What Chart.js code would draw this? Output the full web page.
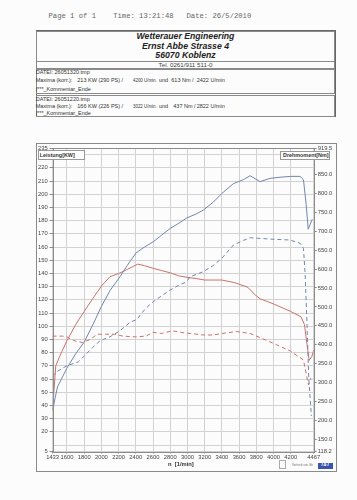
<!DOCTYPE html>
<html><head><meta charset="utf-8">
<script src="https://cdn.jsdelivr.net/npm/chart.js@4.4.1/dist/chart.umd.min.js"></script>
<style>
html,body{margin:0;padding:0;background:#fcfcfc;width:357px;height:500px;overflow:hidden;font-family:"Liberation Sans",Arial,sans-serif;}
.a{position:absolute;white-space:pre;line-height:1;}
.box{position:absolute;border:1px solid #8a8a8a;box-sizing:border-box;}
.s{font-size:5.5px;color:#333;transform-origin:0 50%;}
.t{font-weight:bold;font-style:italic;font-size:8.7px;color:#222;width:299px;left:36px;text-align:center;}
</style></head><body>
<div class="a" style="left:48.5px;top:13px;font-family:'Liberation Mono',monospace;font-size:7.2px;color:#666;">Page 1 of 1    Time: 13:21:48   Date: 26/5/2010</div>

<div class="box" style="left:35.5px;top:30px;width:300px;height:87px;border-color:#666;"></div>
<div class="box" style="left:36px;top:30.5px;width:299px;height:31px;"></div>
<div class="box" style="left:36px;top:61px;width:299px;height:8px;"></div>
<div class="box" style="left:36px;top:69px;width:299px;height:25px;"></div>
<div class="box" style="left:36px;top:94.5px;width:299px;height:22.5px;"></div>

<div class="a t" style="top:32px;">Wetterauer Engineering</div>
<div class="a t" style="top:42px;">Ernst Abbe Strasse 4</div>
<div class="a t" style="top:51px;">56070 Koblenz</div>
<div class="a" style="left:36px;width:299px;text-align:center;top:62.3px;font-size:6.2px;color:#444;">Tel. 0261/911 511-0</div>

<div id="hdr"></div>

<div class="box" style="left:36px;top:143px;width:301px;height:329px;border-color:#8a8a8a;"></div>
<canvas id="c" width="357" height="500" style="position:absolute;left:0;top:0;width:357px;height:500px;"></canvas>

<div class="a" style="left:37.7px;top:150px;width:47px;height:9.5px;box-sizing:border-box;border:1px solid #999;background:#fff;font-size:5.4px;font-weight:bold;color:#333;padding:1.5px 0 0 1px;">Leistung[KW]</div>
<div class="a" style="left:280px;top:151px;width:50px;height:9px;box-sizing:border-box;border:1px solid #999;background:#fff;font-size:5.4px;font-weight:bold;color:#333;padding:1.3px 0 0 2px;">Drehmoment[Nm]</div>
<div class="a" style="left:168px;top:462px;font-size:5.8px;font-weight:bold;color:#333;">n  [1/min]</div>

<div class="box" style="left:279px;top:460px;width:7px;height:9px;border-color:#aaa;"></div>
<div class="a" style="left:292px;top:464px;font-size:3px;color:#777;">Vertrieb von Gb</div>
<div class="a" style="left:317.7px;top:462.5px;width:15px;height:6px;background:#3a55b0;color:#fff;font-size:4.5px;font-weight:bold;font-style:italic;text-align:center;padding-top:0.8px;box-sizing:border-box;">T&amp;T</div>

<script>
// ---------------- data ----------------
const xTicks = [1433,1600,1800,2000,2200,2400,2600,2800,3000,3200,3400,3600,3800,4000,4200,4467];
const kwTicks = [5,10,20,30,40,50,60,70,80,90,100,110,120,130,140,150,160,170,180,190,200,210,220,230,235];
const nmTicks = [118.2,150,200,250,300,350,400,450,500,550,600,650,700,750,800,850,919.5];

// run 1 power (kW)
const p1Rpm = [1433,1460,1490,1597,1700,1800,1900,2000,2100,2216,2300,2402,2500,2603,2700,2798,2900,2992,3100,3185,3300,3399,3534,3650,3728,3844,3960,4100,4200,4309,4348,4380,4403,4450];
const p1Kw  = [36,45,54,68,79,88,101,115,127,137.5,146,155.5,160,164,169,174,178,182,185,188,194,200.5,208,211,214,209.5,212,213,213.5,213.5,211,192,173.5,181];
// run 1 torque (Nm)
const t1Rpm = [1433,1470,1520,1600,1700,1800,1900,2000,2100,2200,2300,2422,2500,2600,2700,2800,2900,3000,3100,3200,3400,3550,3700,3800,3850,4000,4200,4320,4360,4390,4415,4445,4467];
const t1Nm  = [230,345,372,411,453,488,522,555,580,588,599,613,609,602,596,590,582,578,575,571,571,564,552,529,521,508,488,474,453,400,359,369,386];
// run 2 power (kW)
const p2Rpm = [1433,1480,1597,1732,1809,1900,1984,2100,2216,2333,2410,2507,2603,2700,2798,2900,2992,3030,3185,3300,3399,3534,3650,3728,3960,4193,4309,4348,4367,4390,4410,4440];
const p2Kw  = [62,65.5,70,73,78,84,89,92,96.5,103,105,113,118.6,123,127.4,131,133.7,137.5,141.3,146,151.4,161.5,165,167,166,165.3,162.8,159,140,100,60,32];
// run 2 torque (Nm)
const t2Rpm = [1433,1550,1600,1680,1780,1870,1950,2050,2150,2250,2400,2520,2600,2700,2822,2950,3030,3185,3300,3400,3573,3728,3864,4038,4193,4348,4379,4406,4434];
const t2Nm  = [423,423,421,411,406,414,428,428,428,423,421,423,433,430,437,432,430,426,426,430,435,430,417,400,384,360,325,294,312];

// header texts: [left, text, horizontal squeeze]
const hdrLines = [
  {y:72.7, parts:[[35.7,'DATEI: 26051320.tmp',1]]},
  {y:81, parts:[[35.7,'Maxima (korr.):',1],[77.3,'213 KW (290 PS) /',1],[133.3,'4200 U/min.',0.8],[159,'und',1],[171.3,'613 Nm /',1],[196.7,'2422 U/min',1]]},
  {y:89.3, parts:[[35.7,'|***_Kommentar_Ende',1]]},
  {y:99.3, parts:[[35.7,'DATEI: 26051220.tmp',1]]},
  {y:106.7, parts:[[35.7,'Maxima (korr.):',1],[77.3,'166 KW (226 PS) /',1],[133.3,'3022 U/min.',0.8],[159,'und',1],[173.3,'437 Nm /',1],[196.7,'2822 U/min',1]]},
  {y:113.7, parts:[[35.7,'|***_Kommentar_Ende',1]]}
];
const hdr = document.getElementById('hdr');
hdrLines.forEach(l => l.parts.forEach(p => {
  const d = document.createElement('div');
  d.className = 'a s';
  d.style.left = p[0] + 'px';
  d.style.top = (l.y - 2.8) + 'px';
  if (p[2] !== 1) d.style.transform = 'scaleX(' + p[2] + ')';
  d.textContent = p[1];
  hdr.appendChild(d);
}));

const zip = (xs, ys) => xs.map((x, i) => ({x: x, y: ys[i]}));
const BLUE = '#7186b0', RED = '#c9726a';

const frame = {
  id: 'frame',
  afterDraw(chart) {
    const {ctx, chartArea: a} = chart;
    ctx.save();
    ctx.strokeStyle = '#8c8c8c';
    ctx.lineWidth = 1;
    ctx.strokeRect(Math.round(a.left) + 0.5, Math.round(a.top) + 0.5, Math.round(a.right - a.left), Math.round(a.bottom - a.top));
    ctx.restore();
  }
};

const tickFont = {family: 'Liberation Sans, Arial, sans-serif', size: 5.8};

new Chart(document.getElementById('c'), {
  type: 'line',
  data: {
    datasets: [
      {data: zip(p2Rpm, p2Kw), yAxisID: 'yL', borderColor: BLUE, borderWidth: 1, borderDash: [4, 3], pointRadius: 0, tension: 0},
      {data: zip(t2Rpm, t2Nm), yAxisID: 'yR', borderColor: RED, borderWidth: 1, borderDash: [4, 3], pointRadius: 0, tension: 0},
      {data: zip(p1Rpm, p1Kw), yAxisID: 'yL', borderColor: BLUE, borderWidth: 1, pointRadius: 0, tension: 0},
      {data: zip(t1Rpm, t1Nm), yAxisID: 'yR', borderColor: RED, borderWidth: 1, pointRadius: 0, tension: 0}
    ]
  },
  options: {
    responsive: false,
    animation: false,
    devicePixelRatio: 1,
    layout: {padding: {left: 36, top: 148, right: 20, bottom: 28}},
    plugins: {legend: {display: false}, tooltip: {enabled: false}},
    scales: {
      x: {
        type: 'linear', min: 1433, max: 4467,
        afterBuildTicks: s => { s.ticks = xTicks.map(v => ({value: v})); },
        afterFit: s => { s.height = 20.4; },
        ticks: {autoSkip: false, maxRotation: 0, font: tickFont, color: '#444', padding: 0, callback: v => String(v)},
        grid: {color: '#d2d2d2', lineWidth: 1, tickLength: 2, tickColor: '#999'},
        border: {display: false}
      },
      yL: {
        position: 'left', min: 5, max: 235,
        afterBuildTicks: s => { s.ticks = kwTicks.map(v => ({value: v})); },
        afterFit: s => { s.width = 16.6; },
        ticks: {autoSkip: false, font: tickFont, color: '#444', padding: 2,
          callback: v => (v === 10 || v === 230) ? '' : String(v)},
        grid: {color: '#d2d2d2', lineWidth: 1, tickLength: 3,
          tickColor: c => (c.tick && (c.tick.value === 10 || c.tick.value === 230)) ? 'rgba(0,0,0,0)' : '#888'},
        border: {display: false}
      },
      yR: {
        position: 'right', min: 118.2, max: 919.5,
        afterBuildTicks: s => { s.ticks = nmTicks.map(v => ({value: v})); },
        afterFit: s => { s.width = 23.3; },
        ticks: {autoSkip: false, font: tickFont, color: '#444', padding: 1, callback: v => Number(v).toFixed(1)},
        grid: {drawOnChartArea: false, tickLength: 3, tickColor: '#888'},
        border: {display: false}
      }
    }
  },
  plugins: [frame]
});
</script>
</body></html>
